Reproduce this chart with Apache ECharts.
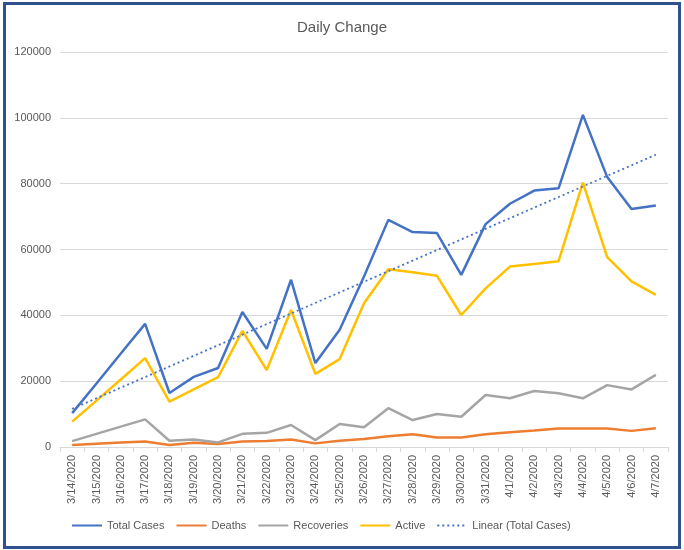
<!DOCTYPE html>
<html>
<head>
<meta charset="utf-8">
<script src="https://cdn.jsdelivr.net/npm/echarts@6/dist/echarts.min.js"></script>
<style>
  html, body { margin: 0; padding: 0; background: #fff; }
  #frame { position: absolute; left: 3px; top: 2px; width: 672px; height: 541px; border: 3px solid #2f528f; background: #fff; }
  #daily_change { width: 100%; height: 100%; }
</style>
</head>
<body>
<div id="frame"><div id="daily_change"></div></div>
<script>
const dates = ['3/14/2020','3/15/2020','3/16/2020','3/17/2020','3/18/2020','3/19/2020','3/20/2020',
  '3/21/2020','3/22/2020','3/23/2020','3/24/2020','3/25/2020','3/26/2020','3/27/2020','3/28/2020',
  '3/29/2020','3/30/2020','3/31/2020','4/1/2020','4/2/2020','4/3/2020','4/4/2020','4/5/2020',
  '4/6/2020','4/7/2020'];
const totalCases = [10300, 19300, 28400, 37400, 16400, 21300, 24000, 41000, 29800, 50800, 25500, 35600,
  51800, 69000, 65300, 65000, 52300, 67700, 73900, 77900, 78600, 100900, 82000, 72300, 73400];
const deaths = [600, 1000, 1400, 1700, 600, 1300, 900, 1700, 1800, 2300, 1100, 1900,
  2400, 3300, 3900, 2900, 2900, 3900, 4500, 5000, 5600, 5600, 5600, 4900, 5700];
const recoveries = [1800, 4000, 6200, 8400, 1900, 2300, 1400, 4000, 4300, 6700, 2100, 7000,
  6000, 11800, 8200, 10000, 9200, 15800, 14800, 17000, 16300, 14800, 18800, 17500, 21900];
const active = [7700, 14100, 20500, 27000, 13800, 17500, 21200, 35300, 23400, 41600, 22200, 26700,
  43700, 54000, 53100, 52000, 40100, 48200, 54800, 55600, 56400, 80300, 57700, 50300, 46200];
// trendline ends
const trendStart = 11600;
const trendEnd = 88800;

const chart = echarts.init(document.getElementById('daily_change'));
const font = '"Liberation Sans", Arial, sans-serif';
let lineSeries = function (name, data, color) {
  return {
    name: name, type: 'line', data: data, symbol: 'none',
    lineStyle: { color: color, width: 2.5 }, itemStyle: { color: color }
  };
};
let option = {
  animation: false,
  title: {
    text: 'Daily Change', left: 'center', top: 10,
    textStyle: { fontFamily: font, fontSize: 15, fontWeight: 'normal', color: '#595959' }
  },
  legend: {
    bottom: 10, left: 60, itemWidth: 30, itemHeight: 10, itemGap: 11,
    itemStyle: { opacity: 0 },
    textStyle: { fontFamily: font, fontSize: 11, color: '#595959' },
    data: ['Total Cases', 'Deaths', 'Recoveries', 'Active', 'Linear (Total Cases)']
  },
  grid: { left: 54, right: 10, top: 47, bottom: 99 },
  xAxis: {
    type: 'category', data: dates, boundaryGap: true,
    axisLine: { lineStyle: { color: '#d9d9d9' } },
    axisTick: { show: true, length: 5, lineStyle: { color: '#d9d9d9' } },
    axisLabel: { rotate: 90, fontFamily: font, fontSize: 11, color: '#595959', margin: 8, interval: 0 }
  },
  yAxis: {
    type: 'value', min: 0, max: 120000, interval: 20000,
    axisLine: { show: false }, axisTick: { show: false },
    axisLabel: { fontFamily: font, fontSize: 11, color: '#595959', margin: 9,
      formatter: function (v) { return String(v); } },
    splitLine: { lineStyle: { color: '#d9d9d9' } }
  },
  series: [
    lineSeries('Total Cases', totalCases, '#4472c4'),
    lineSeries('Deaths', deaths, '#ed7d31'),
    lineSeries('Recoveries', recoveries, '#a5a5a5'),
    lineSeries('Active', active, '#ffc000'),
    {
      name: 'Linear (Total Cases)', type: 'line', symbol: 'none',
      data: [[dates[0], trendStart], [dates[dates.length - 1], trendEnd]],
      lineStyle: { color: '#4472c4', width: 1.8, type: [2, 3] }, itemStyle: { color: '#4472c4' }
    }
  ]
};
chart.setOption(option);
</script>
</body>
</html>
